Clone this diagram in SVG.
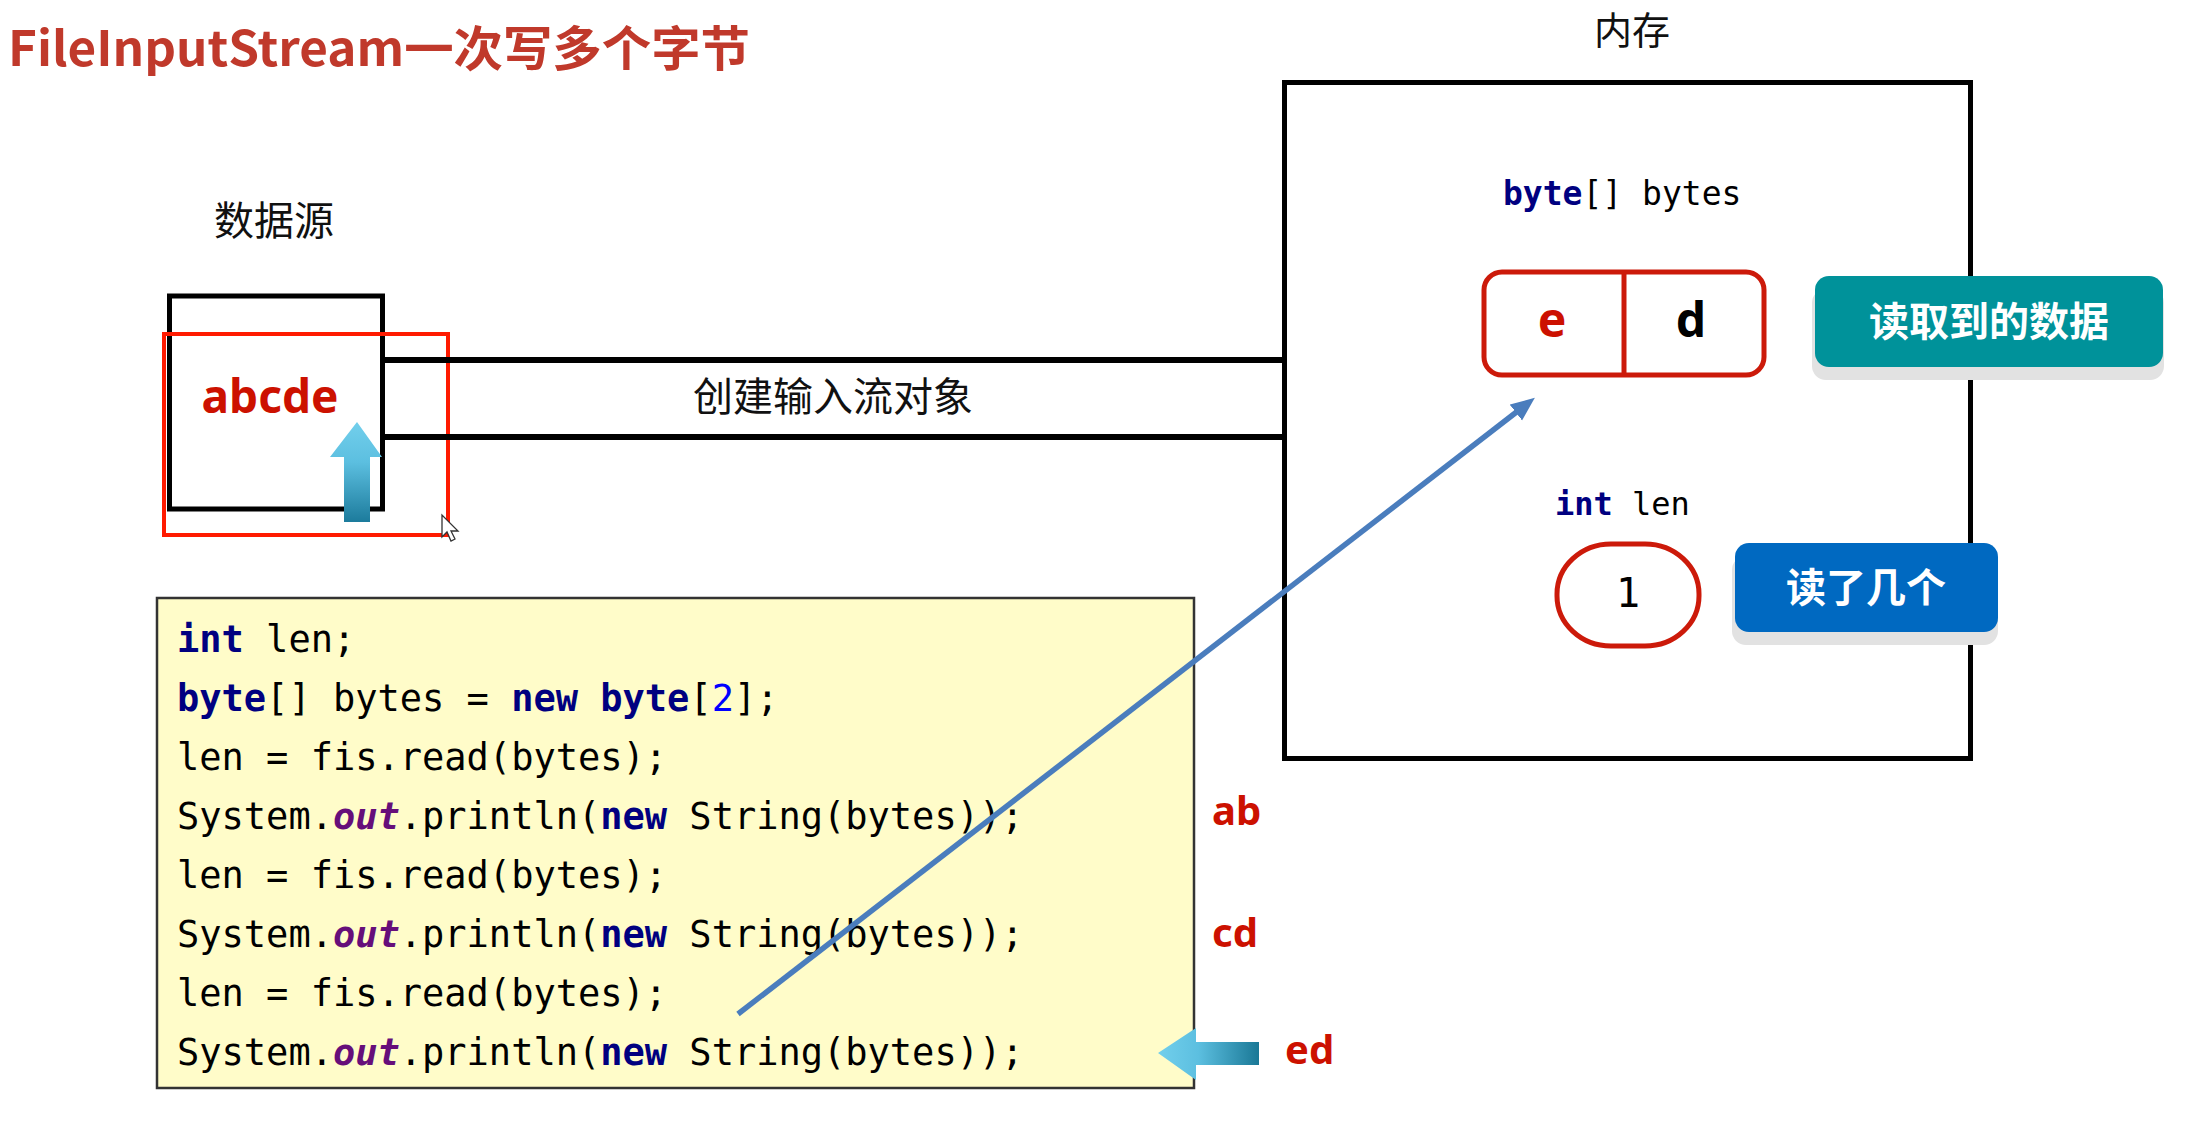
<svg xmlns="http://www.w3.org/2000/svg" width="2205" height="1121" viewBox="0 0 2205 1121">
<style>
.cjk{font-family:"Noto Sans CJK SC","Noto Sans",sans-serif}
.code{font-family:"DejaVu Sans Mono","Liberation Mono",monospace;fill:#000}
.kw{font-weight:bold;fill:#000080}
.num{fill:#0000ff}
.fld{font-weight:bold;font-style:italic;fill:#660e7a}
.lbl{font-family:"Noto Sans","Noto Sans CJK SC",sans-serif;font-weight:bold;fill:#cc1100}
.btn{font-family:"Noto Sans CJK SC",sans-serif;font-weight:bold;fill:#fff;font-size:40px}
.blk{fill:none;stroke:#000;stroke-width:5}
</style>
<defs>
<linearGradient id="gUp" x1="0" y1="0" x2="0" y2="1">
<stop offset="0" stop-color="#72cfec"/><stop offset="0.4" stop-color="#5cbfe0"/><stop offset="1" stop-color="#1c7b9c"/>
</linearGradient>
<linearGradient id="gLeft" x1="0" y1="0" x2="1" y2="0">
<stop offset="0" stop-color="#72cfec"/><stop offset="0.4" stop-color="#5cbfe0"/><stop offset="1" stop-color="#1a7896"/>
</linearGradient>
<marker id="ah" markerUnits="userSpaceOnUse" markerWidth="26" markerHeight="22" refX="9" refY="10" orient="auto">
<path d="M0,0 L24,10 L0,20 Z" fill="#4a7dbd"/>
</marker>
</defs>
<rect width="2205" height="1121" fill="#fff"/>

<g id="title">
<text class="cjk" x="8" y="66" font-size="48" font-weight="bold" fill="#c0392b" textLength="742" lengthAdjust="spacingAndGlyphs">FileInputStream一次写多个字节</text>
</g>

<g id="datasource">
<text class="cjk" x="274" y="235" font-size="40" text-anchor="middle" fill="#111">数据源</text>
<rect class="blk" x="169.5" y="296" width="213" height="213"/>
<text class="lbl" x="270" y="413" font-size="46" text-anchor="middle">abcde</text>
<path d="M357,422 L382,457 L370,457 L370,522 L344,522 L344,457 L330,457 Z" fill="url(#gUp)"/>
<rect x="164" y="334" width="284" height="201" fill="none" stroke="#ff1a00" stroke-width="4"/>
<path d="M442,515 L442,537 L447,532 L451,541 L455,539 L451,531 L458,531 Z" fill="#fff" stroke="#333" stroke-width="1.3"/>
</g>

<g id="stream">
<line x1="385" y1="360" x2="1284" y2="360" stroke="#000" stroke-width="6"/>
<line x1="385" y1="437" x2="1284" y2="437" stroke="#000" stroke-width="6"/>
<text class="cjk" x="833" y="411" font-size="40" text-anchor="middle" fill="#111">创建输入流对象</text>
</g>

<g id="memory">
<text class="cjk" x="1632" y="44" font-size="38" text-anchor="middle" fill="#111">内存</text>
<rect class="blk" x="1284.5" y="82.5" width="686" height="676"/>
<text class="code" x="1503" y="205" font-size="33"><tspan class="kw">byte</tspan>[] bytes</text>
<rect x="1484" y="272" width="280" height="103" rx="18" fill="#fff" stroke="#cc1a0a" stroke-width="5"/>
<line x1="1624" y1="272" x2="1624" y2="375" stroke="#cc1a0a" stroke-width="5"/>
<text class="lbl" x="1552" y="337" font-size="48" text-anchor="middle">e</text>
<text class="lbl" x="1691" y="337" font-size="48" text-anchor="middle" style="fill:#000">d</text>
<text class="code" x="1555" y="515" font-size="32"><tspan class="kw">int</tspan> len</text>
<rect x="1557" y="544" width="142" height="102" rx="54" ry="50" fill="#fff" stroke="#cc1a0a" stroke-width="5"/>
<text class="code" x="1628" y="607" font-size="40" text-anchor="middle">1</text>
</g>

<g id="btn-data">
<rect x="1812" y="289" width="352" height="91" rx="14" fill="#e2e2e2"/>
<rect x="1815" y="276" width="348" height="91" rx="14" fill="#00929a"/>
<text class="btn" x="1989" y="336" text-anchor="middle">读取到的数据</text>
</g>

<g id="btn-count">
<rect x="1732" y="556" width="266" height="89" rx="14" fill="#e2e2e2"/>
<rect x="1735" y="543" width="263" height="89" rx="14" fill="#0069c1"/>
<text class="btn" x="1866" y="602" text-anchor="middle">读了几个</text>
</g>

<g id="code">
<rect x="157" y="598" width="1037" height="490" fill="#fffcc9" stroke="#333" stroke-width="2.5"/>
<text class="code" x="177" y="652" font-size="37"><tspan class="kw">int</tspan> len;</text>
<text class="code" x="177" y="711" font-size="37"><tspan class="kw">byte</tspan>[] bytes = <tspan class="kw">new</tspan> <tspan class="kw">byte</tspan>[<tspan class="num">2</tspan>];</text>
<text class="code" x="177" y="770" font-size="37">len = fis.read(bytes);</text>
<text class="code" x="177" y="829" font-size="37">System.<tspan class="fld">out</tspan>.println(<tspan class="kw">new</tspan> String(bytes));</text>
<text class="code" x="177" y="888" font-size="37">len = fis.read(bytes);</text>
<text class="code" x="177" y="947" font-size="37">System.<tspan class="fld">out</tspan>.println(<tspan class="kw">new</tspan> String(bytes));</text>
<text class="code" x="177" y="1006" font-size="37">len = fis.read(bytes);</text>
<text class="code" x="177" y="1065" font-size="37">System.<tspan class="fld">out</tspan>.println(<tspan class="kw">new</tspan> String(bytes));</text>
</g>

<g id="outputs">
<text class="lbl" x="1212" y="825" font-size="40">ab</text>
<text class="lbl" x="1212" y="947" font-size="40">cd</text>
<text class="lbl" x="1285" y="1064" font-size="40">ed</text>
<path d="M1158,1053 L1196,1028 L1196,1042 L1259,1042 L1259,1065 L1196,1065 L1196,1080 Z" fill="url(#gLeft)"/>
</g>

<g id="connectors">
<line x1="738" y1="1014" x2="1523" y2="407" stroke="#4a7dbd" stroke-width="5.5" marker-end="url(#ah)"/>
</g>
</svg>
